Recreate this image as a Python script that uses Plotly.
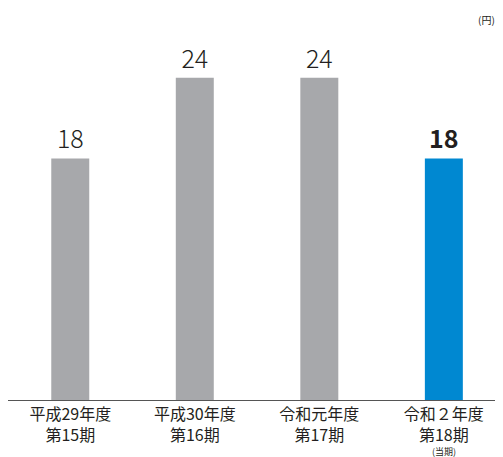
import plotly.graph_objects as go

categories = ["平成29年度<br>第15期", "平成30年度<br>第16期", "令和元年度<br>第17期",
              "令和２年度<br>第18期"]
values = [18, 24, 24, 18]
colors = ["#a7a8ab", "#a7a8ab", "#a7a8ab", "#0088d1"]
weights = [300, 300, 300, 600]
current_note = "(当期)"
current_index = 3
unit_label = "(円)"

FONT = "Noto Sans CJK JP"
TXT = "#231f20"

fig = go.Figure(go.Bar(
    x=list(range(len(values))),
    y=values,
    marker=dict(color=colors, line=dict(width=0)),
    width=0.305,
    text=[str(v) for v in values],
    textposition="outside",
    textfont=dict(family=FONT, size=25, color=TXT, weight=weights),
    cliponaxis=False,
))

fig.update_layout(
    width=495, height=449,
    margin=dict(l=0, r=0, t=43, b=57),
    paper_bgcolor="white", plot_bgcolor="white",
    font=dict(family=FONT, color=TXT),
    showlegend=False,
    xaxis=dict(
        range=[-0.5, 3.475],
        tickmode="array",
        tickvals=list(range(len(values))),
        ticktext=categories,
        tickfont=dict(size=16, family=FONT, color=TXT),
        showline=True, linecolor="#555555", linewidth=1,
        ticks="", showgrid=False, zeroline=False,
    ),
    yaxis=dict(range=[0, 26], visible=False),
    annotations=[
        dict(text=unit_label, xref="paper", yref="paper", x=0.988, y=1.089,
             xanchor="right", yanchor="middle", showarrow=False,
             font=dict(size=10, family=FONT, color=TXT)),
        dict(text=current_note, xref="x", yref="paper", x=current_index, y=-0.147,
             xanchor="center", yanchor="middle", showarrow=False,
             font=dict(size=9, family=FONT, color=TXT)),
    ],
)

fig.write_html("out.html")
